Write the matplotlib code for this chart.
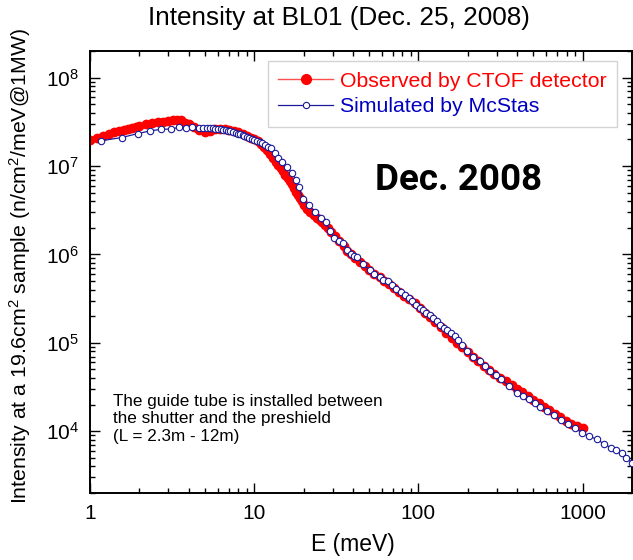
import matplotlib
matplotlib.use("Agg")
import matplotlib.pyplot as plt
from matplotlib.ticker import LogLocator, NullFormatter, FixedLocator, FixedFormatter

plt.rcParams['font.family'] = ['Liberation Sans', 'DejaVu Sans']
plt.rcParams['mathtext.fontset'] = 'custom'
plt.rcParams['mathtext.rm'] = 'Liberation Sans'
plt.rcParams['mathtext.it'] = 'Liberation Sans:italic'

# Observed by CTOF detector
obs_E = [1.0, 1.1, 1.2, 1.3, 1.4, 1.5, 1.6, 1.7, 1.8, 1.9, 2.0, 2.2, 2.4, 2.6, 2.8,
         3.0, 3.2, 3.4, 3.6, 3.8, 4.0, 4.3, 4.6, 5.0, 5.4, 5.8, 6.2, 6.6, 7.0, 7.5,
         8.0, 8.5, 9.0, 9.5, 10.0, 10.5, 11.0, 11.5, 12.0, 12.5, 13.0, 13.5, 14.0,
         14.5, 15.0, 15.5, 16.0, 16.5, 17.0, 17.5, 18.0, 18.5, 19.0, 19.5, 20, 21,
         22, 23, 24, 25, 26, 27, 28, 29.5, 31, 33, 35, 37, 39, 41, 44, 47, 50, 54,
         58, 62, 66, 71, 76, 82, 88, 95, 102, 110, 118, 127, 137, 148, 160, 172,
         185, 200, 215, 232, 250, 270, 290, 315, 340, 370, 400, 430, 465, 500, 540,
         580, 625, 675, 730, 790, 850, 920, 1000]
obs_I = [1.95e7, 2.1e7, 2.2e7, 2.3e7, 2.4e7, 2.5e7, 2.58e7, 2.65e7, 2.72e7, 2.78e7,
         2.85e7, 2.95e7, 3.05e7, 3.12e7, 3.18e7, 3.22e7, 3.28e7, 3.35e7, 3.3e7,
         3.1e7, 2.95e7, 2.75e7, 2.55e7, 2.42e7, 2.5e7, 2.6e7, 2.62e7, 2.6e7, 2.55e7,
         2.5e7, 2.42e7, 2.32e7, 2.2e7, 2.1e7, 2.0e7, 1.9e7, 1.78e7, 1.65e7, 1.5e7,
         1.35e7, 1.22e7, 1.12e7, 1.04e7, 9.6e6, 8.8e6, 8.0e6, 7.3e6, 6.7e6, 6.2e6,
         5.6e6, 5.1e6, 4.7e6, 4.3e6, 4.0e6, 3.6e6, 3.3e6, 3.0e6, 2.8e6, 2.6e6,
         2.45e6, 2.3e6, 2.15e6, 2.0e6, 1.8e6, 1.6e6, 1.4e6, 1.25e6, 1.1e6, 1.0e6,
         9.2e5, 8.2e5, 7.4e5, 6.7e5, 6.0e5, 5.5e5, 5.0e5, 4.6e5, 4.2e5, 3.8e5,
         3.4e5, 3.1e5, 2.8e5, 2.5e5, 2.2e5, 1.95e5, 1.72e5, 1.5e5, 1.3e5, 1.12e5,
         1.0e5, 8.9e4, 7.9e4, 7.0e4, 6.2e4, 5.5e4, 4.9e4, 4.45e4, 4.0e4, 3.7e4,
         3.3e4, 3.0e4, 2.75e4, 2.5e4, 2.28e4, 2.08e4, 1.9e4, 1.72e4, 1.58e4,
         1.45e4, 1.32e4, 1.22e4, 1.15e4, 1.1e4]

# Simulated by McStas
sim_E = [1.17, 1.56, 1.96, 2.33, 2.7, 3.1, 3.46, 3.83, 4.2, 4.6, 4.9, 5.15, 5.4, 5.6,
         5.8, 6.0, 6.3, 6.5, 6.7, 6.9, 7.1, 7.4, 7.7, 8.0, 8.2, 8.5, 8.7, 9.0, 9.35,
         9.7, 10.0, 10.4, 10.8, 11.2, 11.6, 12.1, 12.6, 13.3, 13.9, 14.8, 15.8, 17.0,
         18.0, 18.8, 19.7, 21.5, 23.5, 25.5, 27.3, 29, 30.8, 32.8, 34.9, 36.8, 38.6,
         40.5, 42.5, 46, 50.6, 54, 58, 61, 65, 69, 73, 78, 83, 87.7, 92, 97, 102,
         107, 112, 117, 123, 129, 136, 143, 150, 158, 166, 175, 185, 198, 215, 236,
         255, 273, 295, 318, 355, 399, 435, 473, 510, 551, 610, 672, 740, 819, 900,
         997, 1100, 1218, 1350, 1487, 1600, 1728, 1850, 2000]
sim_I = [1.93e7, 2.1e7, 2.33e7, 2.5e7, 2.6e7, 2.62e7, 2.73e7, 2.72e7, 2.74e7, 2.72e7,
         2.7e7, 2.68e7, 2.67e7, 2.66e7, 2.64e7, 2.63e7, 2.6e7, 2.58e7, 2.55e7,
         2.52e7, 2.48e7, 2.42e7, 2.37e7, 2.32e7, 2.28e7, 2.24e7, 2.2e7, 2.15e7,
         2.1e7, 2.04e7, 1.98e7, 1.93e7, 1.88e7, 1.8e7, 1.72e7, 1.65e7, 1.58e7,
         1.4e7, 1.22e7, 1.1e7, 9.8e6, 8.3e6, 7.0e6, 5.85e6, 4.2e6, 3.6e6, 3.0e6,
         2.6e6, 2.3e6, 1.85e6, 1.52e6, 1.43e6, 1.34e6, 1.12e6, 1.0e6, 9.7e5, 9.4e5,
         7.8e5, 6.6e5, 6.0e5, 5.5e5, 5.2e5, 4.94e5, 4.5e5, 4.1e5, 3.75e5, 3.45e5,
         3.2e5, 2.95e5, 2.7e5, 2.5e5, 2.35e5, 2.2e5, 2.07e5, 1.9e5, 1.75e5, 1.6e5,
         1.48e5, 1.38e5, 1.3e5, 1.2e5, 1.08e5, 9.5e4, 8.05e4, 7.0e4, 6.2e4, 5.4e4,
         4.8e4, 4.3e4, 3.86e4, 3.25e4, 2.74e4, 2.5e4, 2.31e4, 2.08e4, 1.86e4,
         1.68e4, 1.52e4, 1.35e4, 1.2e4, 1.08e4, 9.6e3, 8.8e3, 8.1e3, 7.2e3, 6.5e3,
         6.1e3, 5.7e3, 5.0e3, 4.4e3]

x_ticks = [1, 10, 100, 1000]
x_ticklabels = ["1", "10", "100", "1000"]
y_ticks = [1e4, 1e5, 1e6, 1e7, 1e8]
y_ticklabels = ["10$^{4}$", "10$^{5}$", "10$^{6}$", "10$^{7}$", "10$^{8}$"]

W, H = 633, 560
fig = plt.figure(figsize=(W/100, H/100), dpi=100)
L, R, T, B = 90, 632, 51, 493
ax = fig.add_axes([L/W, 1-B/H, (R-L)/W, (B-T)/H])

ax.plot(obs_E, obs_I, '-o', color='#ff0000', lw=1.0, ms=6, mec='#ff0000',
        mfc='#ff0000', label='Observed by CTOF detector', zorder=2)
ax.plot(sim_E, sim_I, '-o', color='#1a1a9a', lw=0.9, ms=4.6, mec='#1a1a9a',
        mfc='white', mew=0.8, label='Simulated by McStas', zorder=3)

ax.set_xscale('log')
ax.set_yscale('log')
ax.set_xlim(1, 2000)
ax.set_ylim(2e3, 2e8)

ax.xaxis.set_major_locator(FixedLocator(x_ticks))
ax.xaxis.set_major_formatter(FixedFormatter(x_ticklabels))
ax.yaxis.set_major_locator(FixedLocator(y_ticks))
ax.yaxis.set_major_formatter(FixedFormatter(y_ticklabels))
ax.xaxis.set_minor_locator(LogLocator(base=10, subs=range(2, 10), numticks=20))
ax.yaxis.set_minor_locator(LogLocator(base=10, subs=range(2, 10), numticks=20))
ax.xaxis.set_minor_formatter(NullFormatter())
ax.yaxis.set_minor_formatter(NullFormatter())

ax.tick_params(which='both', direction='in', top=True, right=True, width=1.0)
ax.tick_params(which='major', length=7, labelsize=15)
ax.tick_params(which='minor', length=3.5)
ax.tick_params(axis='x', which='major', pad=8)
ax.tick_params(axis='y', which='major', pad=8)
for s in ax.spines.values():
    s.set_linewidth(1.4)

ax.set_xlabel('E (meV)', fontsize=16.5)
ax.xaxis.label.set_va('center')
ax.xaxis.set_label_coords((353-L)/(R-L), (B-545)/(B-T))

ylab = ax.set_ylabel('Intensity at a 19.6cm$^{2}$ sample (n/cm$^{2}$/meV@1MW)', fontsize=15.3)
ax.yaxis.label.set_va('center')
ax.yaxis.set_label_coords((20-L)/(R-L), 1-(265.5-T)/(B-T))

fig.text(339/W, 1-18/H, 'Intensity at BL01 (Dec. 25, 2008)', ha='center',
         va='center', fontsize=18.8)

leg = ax.legend(loc='upper right', bbox_to_anchor=((617-L)/(R-L), 1-(61-T)/(B-T)),
                fontsize=15.3, frameon=True, fancybox=False, edgecolor='#c8c8c8',
                handlelength=2.6, borderpad=0.5, labelspacing=0.3, borderaxespad=0,
                handletextpad=0.3)
leg.get_frame().set_linewidth(1.0)
leg.get_texts()[0].set_color('#ff0000')
leg.get_texts()[1].set_color('#0000c0')
lh = leg.legend_handles
lh[0].set_markersize(7)
lh[0].set_color('#ff5050')
lh[0].set_markerfacecolor('#ff0000')
lh[0].set_markeredgecolor('#ff0000')
lh[1].set_markersize(4.5)

ax.text((459-L)/(R-L), 1-(180-T)/(B-T), 'Dec. 2008', transform=ax.transAxes,
        ha='center', va='center', fontsize=26.5, fontweight='bold',
        family=['Roboto', 'DejaVu Sans'])

ax.text((113-L)/(R-L), 1-(394-T)/(B-T),
        'The guide tube is installed between\nthe shutter and the preshield\n(L = 2.3m - 12m)',
        transform=ax.transAxes, ha='left', va='top', fontsize=12.3, linespacing=1.2)

fig.savefig('out.png', dpi=100)
